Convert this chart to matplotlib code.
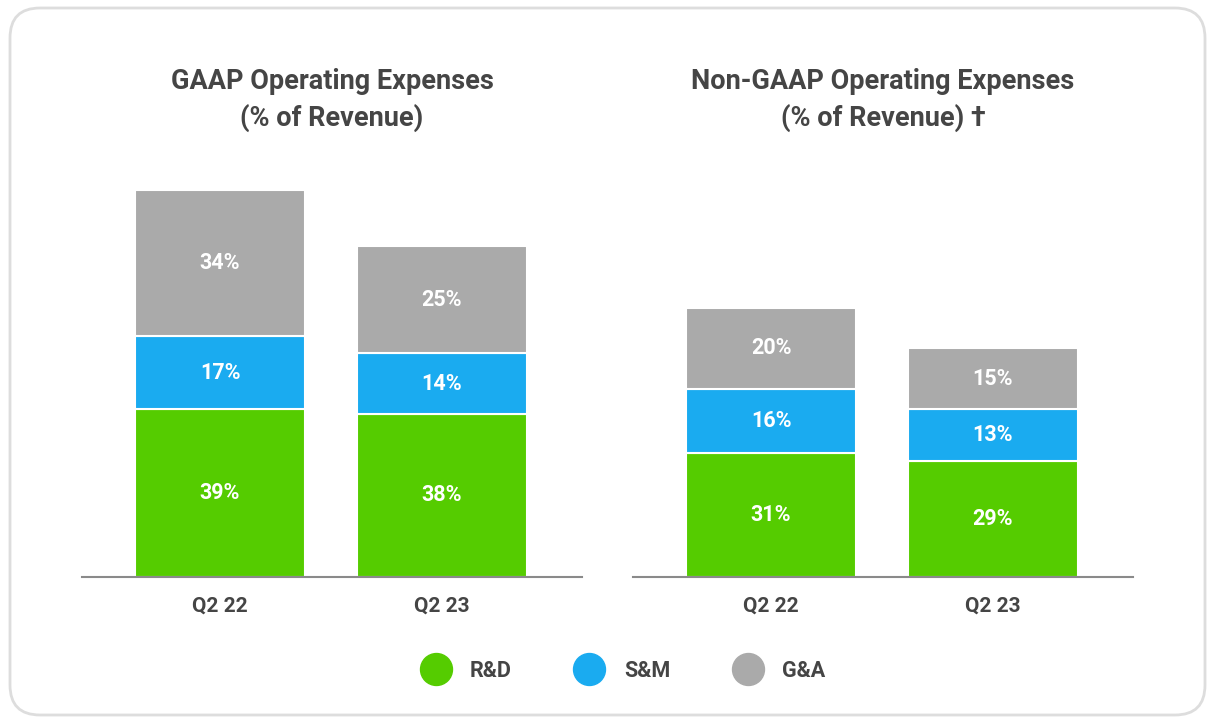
import matplotlib.pyplot as plt
from matplotlib.patches import FancyBboxPatch
from matplotlib.lines import Line2D

plt.rcParams['font.family'] = ['Roboto', 'DejaVu Sans']

quarters = ['Q2 22', 'Q2 23']
categories = ['R&D', 'S&M', 'G&A']
colors = ['#55cc00', '#1aabf0', '#aaaaaa']

gaap_rd = [39, 38]
gaap_sm = [17, 14]
gaap_ga = [34, 25]

nongaap_rd = [31, 29]
nongaap_sm = [16, 13]
nongaap_ga = [20, 15]

W, H = 1208, 718
fig = plt.figure(figsize=(W / 100, H / 100), dpi=100)

# background card with rounded corners
bg = fig.add_axes([0, 0, 1, 1], zorder=-1)
bg.set_xlim(0, W)
bg.set_ylim(H, 0)
bg.axis('off')
bg.add_patch(FancyBboxPatch((10, 8), 1195, 707, boxstyle='round,pad=0,rounding_size=30',
                            facecolor='white', edgecolor='#dddddd', linewidth=2))

text_col = '#454545'


def draw_panel(left_px, ytop, title, rd, sm, ga):
    ax = fig.add_axes([left_px / W, (H - 577) / H, 500 / W, 417 / H])
    x = range(len(quarters))
    bottom = [0, 0]
    for vals, col in zip([rd, sm, ga], colors):
        bars = ax.bar(x, vals, width=0.766, bottom=bottom, color=col,
                      edgecolor='white', linewidth=1.5)
        for b, v, b0 in zip(bars, vals, bottom):
            ax.text(b.get_x() + b.get_width() / 2, b0 + v / 2, f'{v}%',
                    ha='center', va='center', color='white',
                    fontsize=15.5, fontweight='bold')
        bottom = [b0 + v for b0, v in zip(bottom, vals)]
    ax.set_xlim(-0.622, 1.631)
    ax.set_ylim(0, ytop)
    for s in ['top', 'right', 'left']:
        ax.spines[s].set_visible(False)
    ax.spines['bottom'].set_color('#8a8a8a')
    ax.spines['bottom'].set_linewidth(1.5)
    ax.set_yticks([])
    ax.set_xticks(list(x))
    ax.set_xticklabels(quarters, fontsize=15, fontweight='bold', color=text_col)
    ax.tick_params(axis='x', length=0, pad=14)
    fig.text((left_px + 250) / W, 1 - 100 / H, title, ha='center', va='center',
             fontsize=19.5, fontweight='bold', color=text_col, linespacing=1.4)
    return ax


draw_panel(82, 97, 'GAAP Operating Expenses\n(% of Revenue)', gaap_rd, gaap_sm, gaap_ga)
draw_panel(633, 104, 'Non-GAAP Operating Expenses\n(% of Revenue) \u2020', nongaap_rd, nongaap_sm, nongaap_ga)

handles = [Line2D([], [], linestyle='none', marker='o', markersize=23,
                  markerfacecolor=c, markeredgecolor=c) for c in colors]
leg = fig.legend(handles, categories, loc='center', bbox_to_anchor=(0.513, 1 - 671 / H),
                 ncol=3, frameon=False, columnspacing=2.6, handletextpad=0.6,
                 prop={'size': 15.5, 'weight': 'bold'})
for t in leg.get_texts():
    t.set_color(text_col)

fig.savefig('out.png', dpi=100)
